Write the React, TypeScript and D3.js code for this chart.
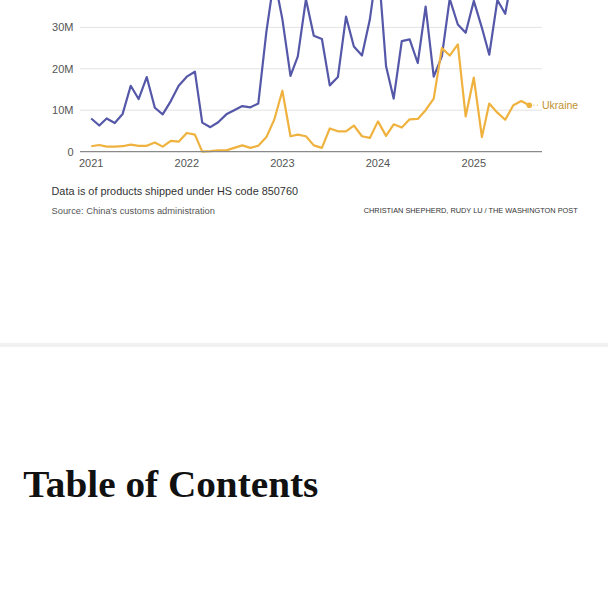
import React, { useRef, useEffect } from 'react';
import * as d3 from 'd3';

// monthly values, Jan 2021 - Aug 2025, in millions
const otherValues = [
  8.0, 6.3, 8.0, 6.9, 9.1, 15.9, 12.7, 18.0, 10.6, 9.0, 12.2, 15.9,
  18.1, 19.3, 7.0, 5.9, 7.1, 9.0, 10.0, 11.0, 10.7, 11.6, 29.0, 42.0,
  32.0, 18.3, 23.0, 36.8, 28.0, 27.2, 16.0, 18.0, 32.6, 25.4, 23.2, 31.9,
  46.0, 20.6, 12.8, 26.7, 27.1, 21.4, 35.0, 18.1, 23.0, 36.9, 30.7, 28.7,
  36.4, 29.9, 23.4, 36.6, 33.3, 44.0, 41.0, 43.0,
];
const ukraineValues = [
  1.3, 1.6, 1.2, 1.2, 1.3, 1.7, 1.4, 1.4, 2.2, 1.2, 2.6, 2.4,
  4.5, 4.1, 0.0, 0.1, 0.3, 0.3, 0.9, 1.5, 0.9, 1.4, 3.5, 7.7,
  14.7, 3.7, 4.1, 3.7, 1.5, 0.9, 5.6, 4.9, 4.9, 6.3, 3.7, 3.3,
  7.3, 3.8, 6.6, 5.8, 7.8, 7.9, 10.0, 12.8, 25.0, 23.2, 25.9, 8.5,
  17.9, 3.5, 11.6, 9.4, 7.7, 11.2, 12.2, 11.2,
];
const yTicks = [0, 10, 20, 30];
const yearTicks = [2021, 2022, 2023, 2024, 2025];
const noteText = 'Data is of products shipped under HS code 850760';
const sourceText = "Source: China's customs administration";
const creditText = 'CHRISTIAN SHEPHERD, RUDY LU / THE WASHINGTON POST';
const titleText = 'Table of Contents';

const W = 608;
const H = 597;

const App: React.FC = () => {
  const ref = useRef<SVGSVGElement | null>(null);

  useEffect(() => {
    const svg = d3.select(ref.current);
    svg.selectAll('*').remove();

    const sans = '"Liberation Sans", Arial, sans-serif';
    const months = ukraineValues.map((_, i) => new Date(2021, i, 1));

    const x = d3.scaleTime()
      .domain([new Date(2021, 0, 1), new Date(2025, 0, 1)])
      .range([91.2, 473.8]);
    const y = d3.scaleLinear().domain([0, 30]).range([151.6, 27.4]);

    const left = 80;
    const right = 542;

    // gridlines + y labels
    const grid = svg.append('g');
    grid.selectAll('line')
      .data(yTicks.filter(d => d > 0))
      .enter().append('line')
      .attr('x1', left).attr('x2', right)
      .attr('y1', d => y(d)).attr('y2', d => y(d))
      .attr('stroke', '#e3e3e3').attr('stroke-width', 1);

    grid.selectAll('text')
      .data(yTicks)
      .enter().append('text')
      .attr('x', 73.5)
      .attr('y', d => y(d))
      .attr('dy', '0.36em')
      .attr('text-anchor', 'end')
      .attr('font-family', sans)
      .attr('font-size', 11)
      .attr('fill', '#555')
      .text(d => d === 0 ? '0' : `${d}M`);

    const line = d3.line<number>()
      .x((_, i) => x(months[i]))
      .y(d => y(d));

    svg.append('path')
      .datum(otherValues)
      .attr('d', line)
      .attr('fill', 'none')
      .attr('stroke', '#5558a8')
      .attr('stroke-width', 2.2)
      .attr('stroke-linejoin', 'round');

    svg.append('path')
      .datum(ukraineValues)
      .attr('d', line)
      .attr('fill', 'none')
      .attr('stroke', '#efb23e')
      .attr('stroke-width', 2.2)
      .attr('stroke-linejoin', 'round');

    // baseline
    svg.append('line')
      .attr('x1', left).attr('x2', right)
      .attr('y1', y(0)).attr('y2', y(0))
      .attr('stroke', '#8a8a8a').attr('stroke-width', 1.2);

    // year labels
    svg.append('g').selectAll('text')
      .data(yearTicks)
      .enter().append('text')
      .attr('x', d => x(new Date(d, 0, 1)))
      .attr('y', 167)
      .attr('text-anchor', 'middle')
      .attr('font-family', sans)
      .attr('font-size', 11)
      .attr('fill', '#555')
      .text(d => String(d));

    // end label for Ukraine
    const last = ukraineValues.length - 1;
    const lx = x(months[last]);
    const ly = y(ukraineValues[last]);
    svg.append('circle')
      .attr('cx', lx).attr('cy', ly).attr('r', 2.8)
      .attr('fill', '#efb23e');
    svg.append('line')
      .attr('x1', lx + 4).attr('x2', lx + 11)
      .attr('y1', ly).attr('y2', ly)
      .attr('stroke', '#efb23e').attr('stroke-width', 1)
      .attr('stroke-dasharray', '1,2.5');
    svg.append('text')
      .attr('x', 542)
      .attr('y', ly)
      .attr('dy', '0.36em')
      .attr('font-family', sans)
      .attr('font-size', 10.5)
      .attr('fill', '#bf9030')
      .text('Ukraine');

    // notes
    svg.append('text')
      .attr('x', 51.5).attr('y', 194.6)
      .attr('font-family', sans).attr('font-size', 10.5)
      .attr('fill', '#333')
      .attr('textLength', 246.5).attr('lengthAdjust', 'spacingAndGlyphs')
      .text(noteText);

    svg.append('text')
      .attr('x', 51.5).attr('y', 213.5)
      .attr('font-family', sans).attr('font-size', 8.5)
      .attr('fill', '#555')
      .attr('textLength', 163.5).attr('lengthAdjust', 'spacingAndGlyphs')
      .text(sourceText);

    svg.append('text')
      .attr('x', 577.7).attr('y', 213.3)
      .attr('text-anchor', 'end')
      .attr('font-family', sans).attr('font-size', 7.2)
      .attr('fill', '#333')
      .attr('textLength', 214).attr('lengthAdjust', 'spacingAndGlyphs')
      .text(creditText);

    // page divider
    svg.append('rect')
      .attr('x', 0).attr('y', 343).attr('width', W).attr('height', 4)
      .attr('fill', '#f1f1f1');

    svg.append('text')
      .attr('x', 23.3).attr('y', 496.5)
      .attr('font-family', '"Liberation Serif", "DejaVu Serif", serif')
      .attr('font-weight', 'bold')
      .attr('font-size', 37)
      .attr('fill', '#111')
      .attr('textLength', 295).attr('lengthAdjust', 'spacingAndGlyphs')
      .text(titleText);
  }, []);

  return (
    <svg
      ref={ref}
      width={W}
      height={H}
      style={{ position: 'absolute', left: 0, top: 0, background: '#fff' }}
    />
  );
};

export default App;
